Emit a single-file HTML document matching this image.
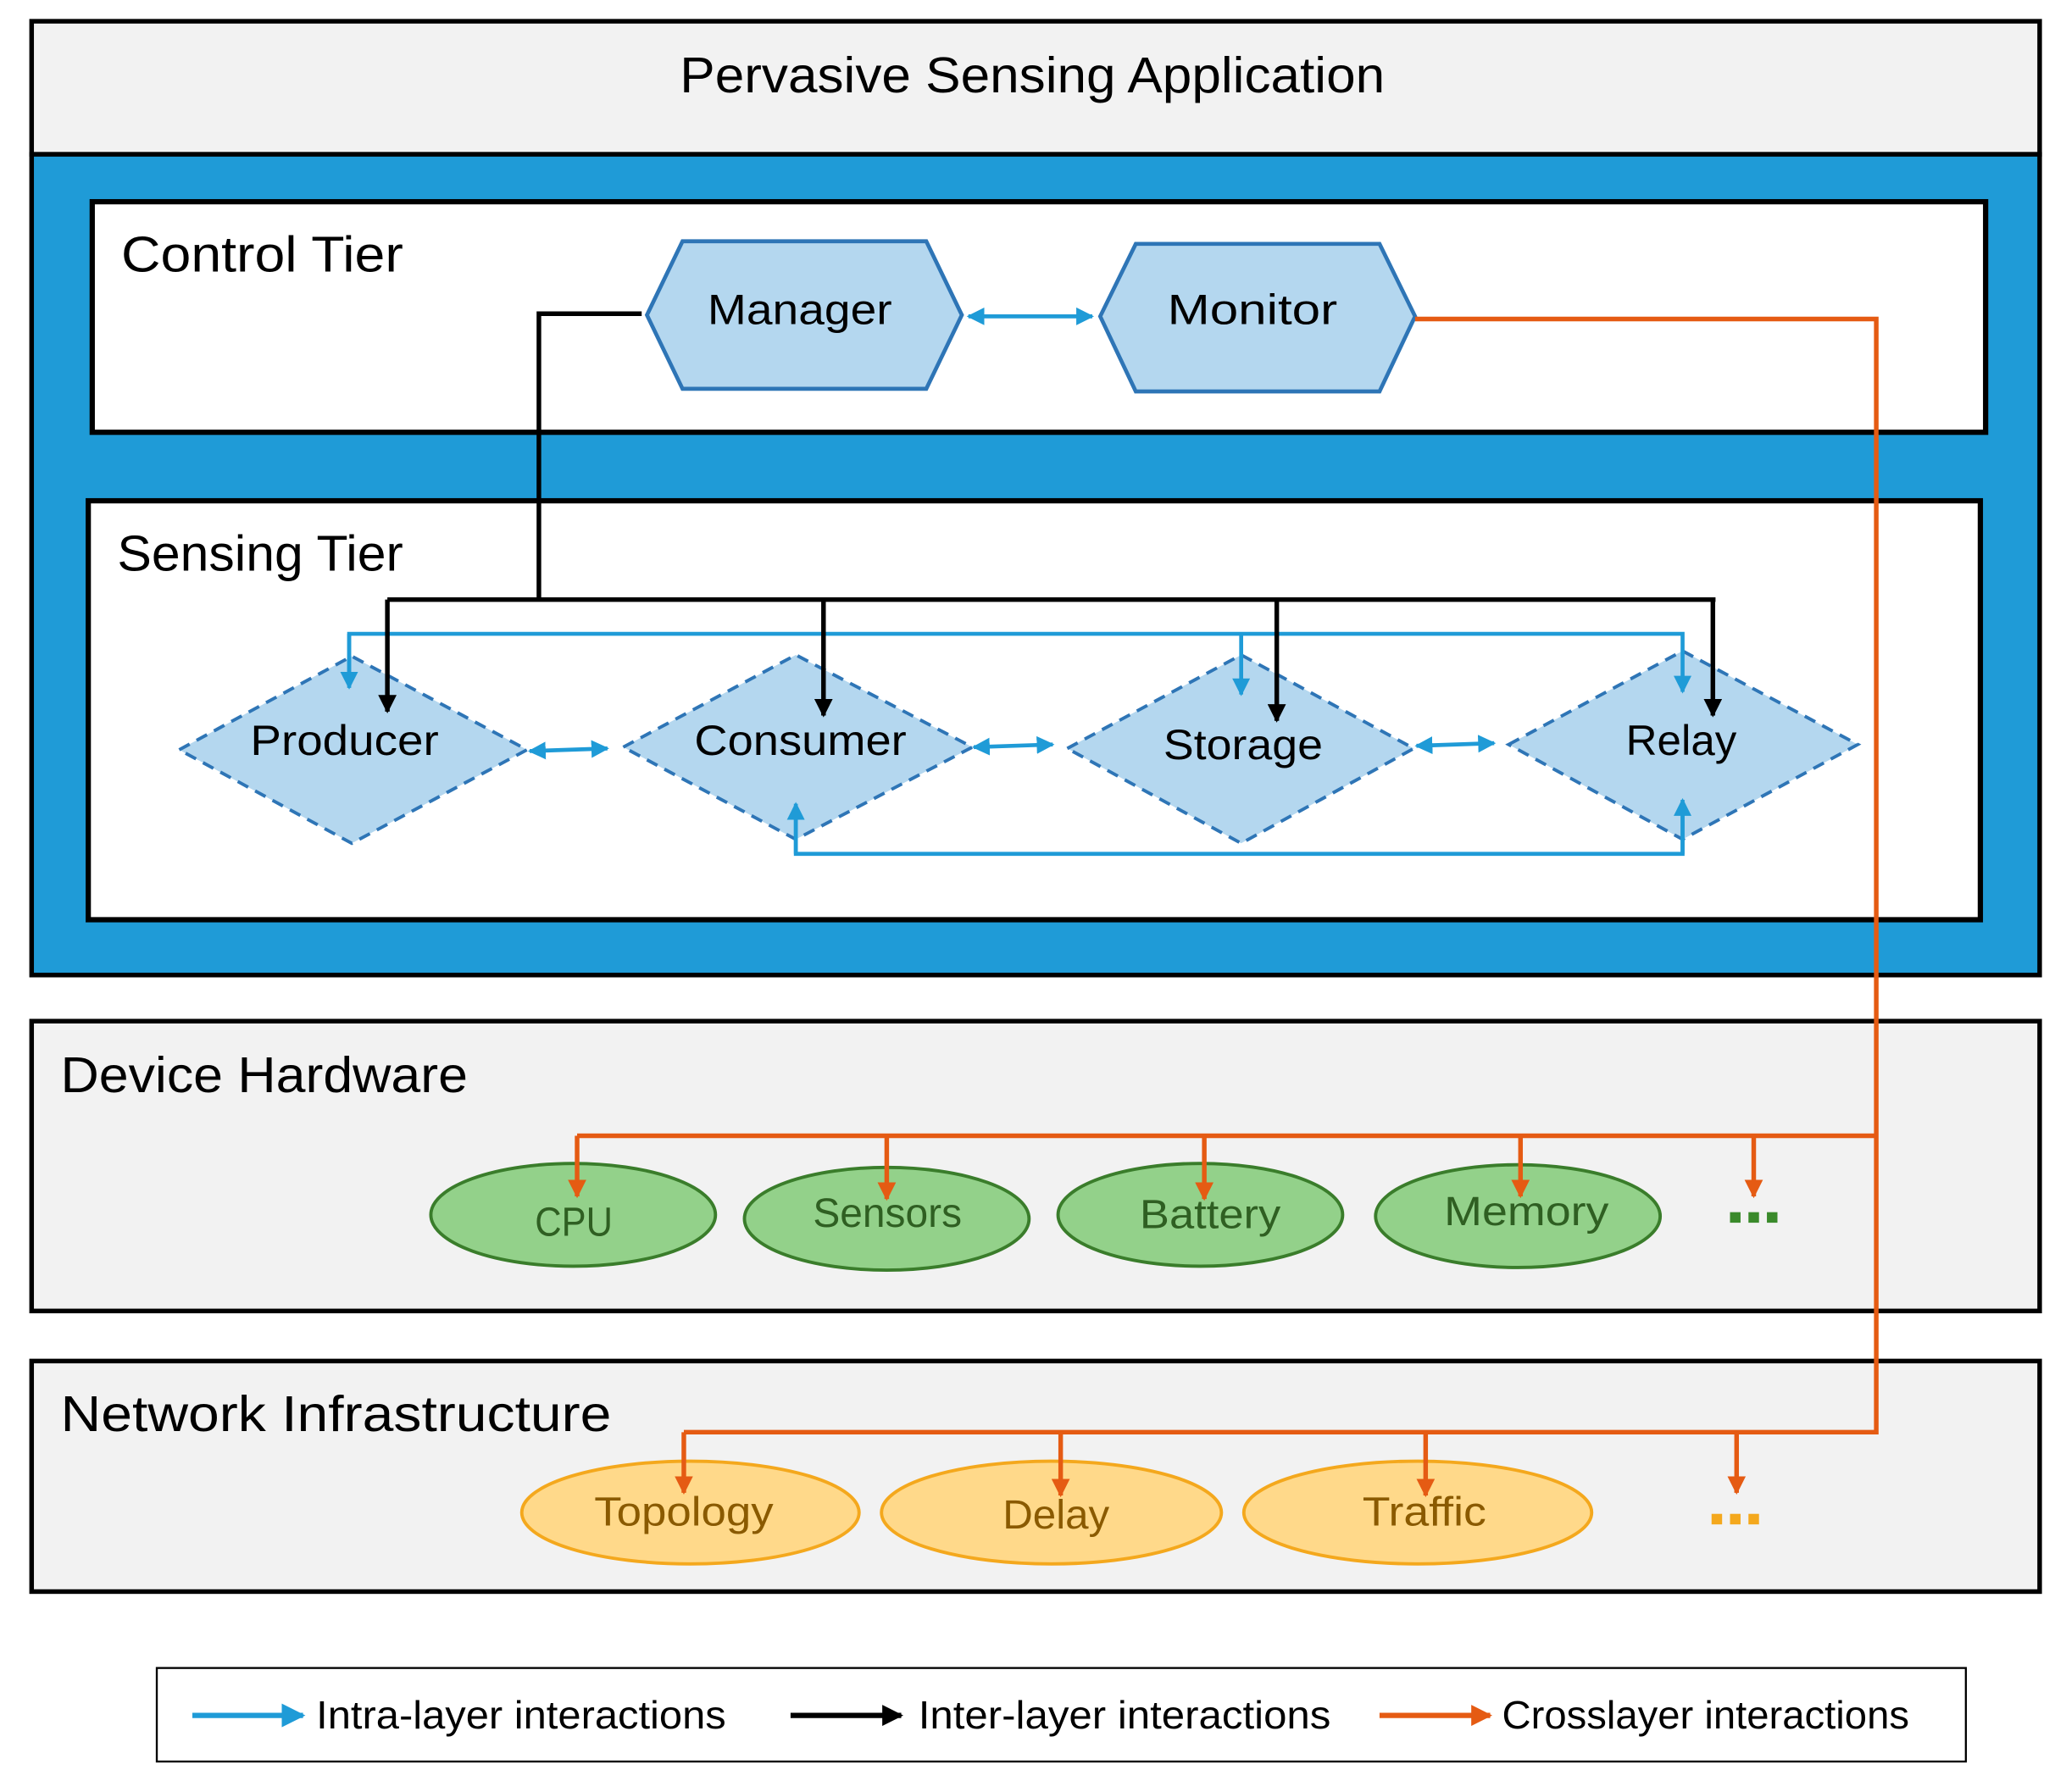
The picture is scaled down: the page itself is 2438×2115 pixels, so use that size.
<!DOCTYPE html>
<html><head><meta charset="utf-8"><style>html,body{margin:0;padding:0;background:#fff}svg{display:block}</style></head>
<body>
<svg width="2438" height="2115" viewBox="0 0 1568 1360" xmlns="http://www.w3.org/2000/svg" font-family="Liberation Sans, sans-serif">
<defs>
<marker id="ab" viewBox="0 0 10 10" refX="9" refY="5" markerWidth="4.5" markerHeight="4.5" orient="auto-start-reverse"><path d="M0,0L10,5L0,10z" fill="#1f9bd7"/></marker>
<marker id="ak" viewBox="0 0 10 10" refX="9" refY="5" markerWidth="4" markerHeight="4" orient="auto-start-reverse"><path d="M0,0L10,5L0,10z" fill="#000"/></marker>
<marker id="ao" viewBox="0 0 10 10" refX="9" refY="5" markerWidth="4" markerHeight="4" orient="auto-start-reverse"><path d="M0,0L10,5L0,10z" fill="#e55b13"/></marker>
</defs>
<rect width="1568" height="1360" fill="#fff"/>
<rect x="24" y="16" width="1524" height="101" fill="#f2f2f2" stroke="#000" stroke-width="3.5"/>
<text x="516" y="70" font-size="38" textLength="535" lengthAdjust="spacingAndGlyphs">Pervasive Sensing Application</text>
<rect x="24" y="117" width="1524" height="623" fill="#1f9bd7" stroke="#000" stroke-width="3.5"/>
<rect x="70" y="153" width="1437" height="175" fill="#fff" stroke="#000" stroke-width="4"/>
<text x="92" y="206" font-size="38" textLength="214" lengthAdjust="spacingAndGlyphs">Control Tier</text>
<rect x="67" y="380" width="1436" height="318" fill="#fff" stroke="#000" stroke-width="4"/>
<text x="89" y="433" font-size="38" textLength="217" lengthAdjust="spacingAndGlyphs">Sensing Tier</text>
<rect x="24" y="775" width="1524" height="220" fill="#f2f2f2" stroke="#000" stroke-width="3.5"/>
<text x="46" y="829" font-size="38" textLength="309" lengthAdjust="spacingAndGlyphs">Device Hardware</text>
<rect x="24" y="1033" width="1524" height="175" fill="#f2f2f2" stroke="#000" stroke-width="3.5"/>
<text x="46" y="1086" font-size="38" textLength="418" lengthAdjust="spacingAndGlyphs">Network Infrastructure</text>

<polygon points="491,239 518,183 703,183 730,239 703,295 518,295" fill="#b4d7ef" stroke="#2e75b6" stroke-width="3"/>
<text x="537" y="246" font-size="32" textLength="140" lengthAdjust="spacingAndGlyphs">Manager</text>
<polygon points="835,240 862,185 1047,185 1074,240 1047,297 862,297" fill="#b4d7ef" stroke="#2e75b6" stroke-width="3"/>
<text x="886" y="246" font-size="32" textLength="129" lengthAdjust="spacingAndGlyphs">Monitor</text>
<line x1="735" y1="240" x2="829" y2="240" stroke="#1f9bd7" stroke-width="3" marker-start="url(#ab)" marker-end="url(#ab)"/>

<g fill="#b4d7ef" stroke="#2e75b6" stroke-width="2.5" stroke-dasharray="9,6">
<polygon points="136,569 267,498 400,569 267,640"/>
<polygon points="473,567 604,497 738,567 604,637"/>
<polygon points="810,568 942,497 1073,568 942,640"/>
<polygon points="1145,565 1277,494 1410,565 1277,637"/>
</g>
<g font-size="32" lengthAdjust="spacingAndGlyphs">
<text x="190" y="573" textLength="143" lengthAdjust="spacingAndGlyphs">Producer</text>
<text x="527" y="573" textLength="161" lengthAdjust="spacingAndGlyphs">Consumer</text>
<text x="883" y="576" textLength="121" lengthAdjust="spacingAndGlyphs">Storage</text>
<text x="1234" y="573" textLength="84" lengthAdjust="spacingAndGlyphs">Relay</text>
</g>

<g stroke="#1f9bd7" stroke-width="3" fill="none">
<polyline points="265,520 265,481 1277,481 1277,525" marker-end="url(#ab)"/>
<line x1="265" y1="481" x2="265" y2="522" marker-end="url(#ab)"/>
<line x1="942" y1="481" x2="942" y2="527" marker-end="url(#ab)"/>
<polyline points="604,612 604,648 1277,648 1277,609"/>
<line x1="604" y1="648" x2="604" y2="610" marker-end="url(#ab)"/>
<line x1="1277" y1="648" x2="1277" y2="607" marker-end="url(#ab)"/>
<line x1="402" y1="570" x2="461" y2="568" marker-start="url(#ab)" marker-end="url(#ab)"/>
<line x1="739" y1="567" x2="799" y2="565" marker-start="url(#ab)" marker-end="url(#ab)"/>
<line x1="1075" y1="566" x2="1134" y2="564" marker-start="url(#ab)" marker-end="url(#ab)"/>
</g>

<g stroke="#000" stroke-width="3.5" fill="none">
<polyline points="487,238 409,238 409,455"/>
<line x1="294" y1="455" x2="1302" y2="455"/>
<line x1="294" y1="455" x2="294" y2="540" marker-end="url(#ak)"/>
<line x1="625" y1="455" x2="625" y2="543" marker-end="url(#ak)"/>
<line x1="969" y1="455" x2="969" y2="547" marker-end="url(#ak)"/>
<line x1="1300" y1="455" x2="1300" y2="543" marker-end="url(#ak)"/>
</g>

<g fill="#93d18a" stroke="#3a7d2b" stroke-width="2.5">
<ellipse cx="435" cy="922" rx="108" ry="39"/>
<ellipse cx="673" cy="925" rx="108" ry="39"/>
<ellipse cx="911" cy="922" rx="108" ry="39"/>
<ellipse cx="1152" cy="923" rx="108" ry="39"/>
</g>
<g font-size="31" fill="#2f5f22">
<text x="406" y="938" textLength="59" lengthAdjust="spacingAndGlyphs">CPU</text>
<text x="617" y="931" textLength="113" lengthAdjust="spacingAndGlyphs">Sensors</text>
<text x="865" y="932" textLength="107" lengthAdjust="spacingAndGlyphs">Battery</text>
<text x="1096" y="930" textLength="125" lengthAdjust="spacingAndGlyphs">Memory</text>
</g>
<g fill="#3a8a2b"><rect x="1313" y="920" width="8" height="8"/><rect x="1327" y="920" width="8" height="8"/><rect x="1341" y="920" width="8" height="8"/></g>

<g fill="#ffd98a" stroke="#f4a81d" stroke-width="2.5">
<ellipse cx="524" cy="1148" rx="128" ry="39"/>
<ellipse cx="798" cy="1148" rx="129" ry="39"/>
<ellipse cx="1076" cy="1148" rx="132" ry="39"/>
</g>
<g font-size="31" fill="#8a5a00">
<text x="451" y="1158" textLength="136" lengthAdjust="spacingAndGlyphs">Topology</text>
<text x="761" y="1160" textLength="81" lengthAdjust="spacingAndGlyphs">Delay</text>
<text x="1034" y="1158" textLength="94" lengthAdjust="spacingAndGlyphs">Traffic</text>
</g>
<g fill="#f4a81d"><rect x="1299" y="1149" width="8" height="8"/><rect x="1313" y="1149" width="8" height="8"/><rect x="1327" y="1149" width="8" height="8"/></g>

<g stroke="#e55b13" stroke-width="3.5" fill="none">
<polyline points="1074,242 1424,242 1424,1087 519,1087"/>
<line x1="438" y1="862" x2="1424" y2="862"/>
<line x1="438" y1="862" x2="438" y2="908" marker-end="url(#ao)"/>
<line x1="673" y1="862" x2="673" y2="910" marker-end="url(#ao)"/>
<line x1="914" y1="862" x2="914" y2="910" marker-end="url(#ao)"/>
<line x1="1154" y1="862" x2="1154" y2="908" marker-end="url(#ao)"/>
<line x1="1331" y1="862" x2="1331" y2="908" marker-end="url(#ao)"/>
<line x1="519" y1="1087" x2="519" y2="1133" marker-end="url(#ao)"/>
<line x1="805" y1="1087" x2="805" y2="1135" marker-end="url(#ao)"/>
<line x1="1082" y1="1087" x2="1082" y2="1135" marker-end="url(#ao)"/>
<line x1="1318" y1="1087" x2="1318" y2="1133" marker-end="url(#ao)"/>
</g>

<rect x="119" y="1266" width="1373" height="71" fill="#fff" stroke="#000" stroke-width="1.5"/>
<line x1="146" y1="1302" x2="230" y2="1302" stroke="#1f9bd7" stroke-width="4" marker-end="url(#ab)"/>
<line x1="600" y1="1302" x2="684" y2="1302" stroke="#000" stroke-width="4" marker-end="url(#ak)"/>
<line x1="1047" y1="1302" x2="1131" y2="1302" stroke="#e55b13" stroke-width="4" marker-end="url(#ao)"/>
<g font-size="30">
<text x="240" y="1312" textLength="311" lengthAdjust="spacingAndGlyphs">Intra-layer interactions</text>
<text x="697" y="1312" textLength="313" lengthAdjust="spacingAndGlyphs">Inter-layer interactions</text>
<text x="1140" y="1312" textLength="309" lengthAdjust="spacingAndGlyphs">Crosslayer interactions</text>
</g>
</svg>
</body></html>
